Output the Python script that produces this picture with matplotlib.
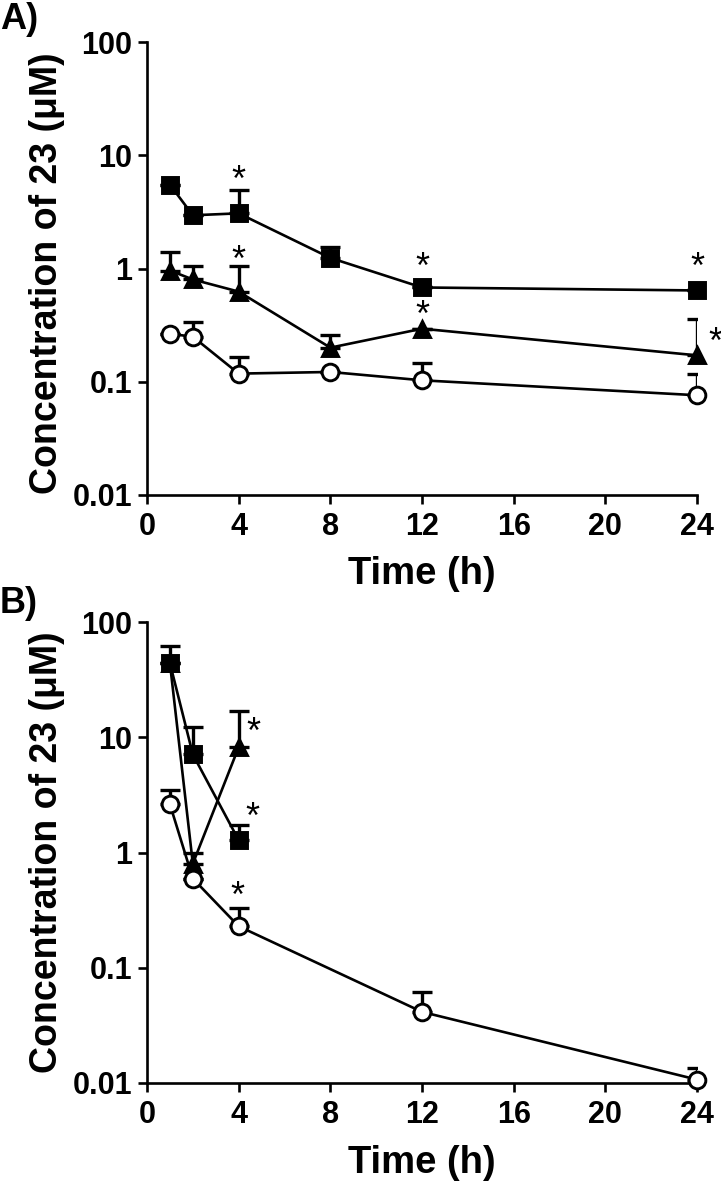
#!/usr/bin/env python
# -*- coding: utf-8 -*-

from matplotlib import pyplot as plt
from matplotlib import transforms
import numpy as np

plt.rcParams['font.family'] = ['Liberation Sans', 'DejaVu Sans']
plt.rcParams['font.weight'] = 'bold'

# time points (h)
t = [1, 2, 4, 8, 12, 24]

# panel A, mean and upper end of the error bar
a_sq = [5.5, 2.95, 3.07, 1.24, 0.68, 0.64]
a_sq_top = [5.5, 2.95, 4.9, 1.55, 0.68, 0.64]
a_tri = [0.96, 0.80, 0.625, 0.20, 0.294, 0.171]
a_tri_top = [1.41, 1.05, 1.05, 0.26, 0.294, 0.355]
a_circ = [0.265, 0.25, 0.118, 0.122, 0.103, 0.076]
a_circ_top = [0.265, 0.34, 0.167, 0.122, 0.145, 0.116]

# panel B
b_t_short = [1, 2, 4]
b_sq = [44.0, 7.1, 1.28]
b_sq_top = [62.0, 12.3, 1.73]
b_tri = [44.0, 0.80, 8.2]
b_tri_top = [44.0, 1.0, 16.8]
b_t_circ = [1, 2, 4, 12, 24]
b_circ = [2.62, 0.594, 0.229, 0.0414, 0.0107]
b_circ_top = [3.47, 0.594, 0.33, 0.0616, 0.0135]

# significance stars (x in h, y in uM)
a_stars_x = [4, 4, 12, 12, 24, 24.8]
a_stars_y = [7.2, 1.40, 1.21, 0.459, 1.21, 0.266]
b_stars_x = [4.65, 4.6, 3.93]
b_stars_y = [13.2, 2.38, 0.49]

xticks = [0, 4, 8, 12, 16, 20, 24]
yticks = [0.01, 0.1, 1, 10, 100]
yticklabels = ['0.01', '0.1', '1', '10', '100']


def series(ax, x, y, top, marker, face):
    x = np.array(x, dtype=float)
    y = np.array(y, dtype=float)
    top = np.array(top, dtype=float)
    err = np.vstack([np.zeros_like(y), top - y])
    ax.errorbar(x, y, yerr=err, fmt='none', ecolor='black', elinewidth=2.4,
                capsize=7.5, capthick=2.4, zorder=2)
    ax.plot(x, y, color='black', lw=1.9, marker=marker, markersize=12,
            markerfacecolor=face, markeredgecolor='black', markeredgewidth=2.1,
            zorder=3, clip_on=False)


def style(ax, stars_x, stars_y, ylab_y):
    ax.set_yscale('log')
    ax.set_xlim(0, 24)
    ax.set_ylim(0.01, 100)
    ax.set_xticks(xticks)
    ax.set_xticklabels([str(v) for v in xticks])
    ax.set_yticks(yticks)
    ax.set_yticklabels(yticklabels)
    ax.yaxis.set_minor_locator(plt.NullLocator())
    for s in ['top', 'right']:
        ax.spines[s].set_visible(False)
    for s in ['left', 'bottom']:
        ax.spines[s].set_linewidth(1.9)
    ax.tick_params(width=1.9, length=6.5, labelsize=22)
    ax.tick_params(axis='x', pad=6)
    ax.tick_params(axis='y', pad=4)
    ax.set_xlabel('Time (h)', fontsize=27.5, fontweight='bold')
    ax.set_ylabel('Concentration of 23 (\u03bcM)', fontsize=27, fontweight='bold')
    ax.yaxis.set_label_coords(-0.149, ylab_y)
    ax.xaxis.set_label_coords(0.5, -0.135)
    # the '*' glyph sits high in its box, move it down a little
    shift = transforms.offset_copy(ax.transData, fig=ax.figure, x=0, y=-7, units='points')
    for sx, sy in zip(stars_x, stars_y):
        ax.text(sx, sy, '*', ha='center', va='center', fontsize=26,
                fontweight='normal', clip_on=False, transform=shift)


fig = plt.figure(figsize=(7.21, 11.91), dpi=100)
axA = fig.add_axes([147 / 721, 1 - 495 / 1191, 550 / 721, 453 / 1191])
axB = fig.add_axes([147 / 721, 1 - 1083 / 1191, 550 / 721, 461 / 1191])

series(axA, t, a_sq, a_sq_top, 's', 'black')
series(axA, t, a_tri, a_tri_top, '^', 'black')
series(axA, t, a_circ, a_circ_top, 'o', 'white')
style(axA, a_stars_x, a_stars_y, 0.49)

series(axB, b_t_short, b_sq, b_sq_top, 's', 'black')
series(axB, b_t_short, b_tri, b_tri_top, '^', 'black')
series(axB, b_t_circ, b_circ, b_circ_top, 'o', 'white')
style(axB, b_stars_x, b_stars_y, 0.5)

fig.text(0 / 721, 1 - 2 / 1191, 'A)', fontsize=26, fontweight='bold', va='top', ha='left')
fig.text(0 / 721, 1 - 586 / 1191, 'B)', fontsize=26, fontweight='bold', va='top', ha='left')

fig.savefig('out.png', dpi=100)
